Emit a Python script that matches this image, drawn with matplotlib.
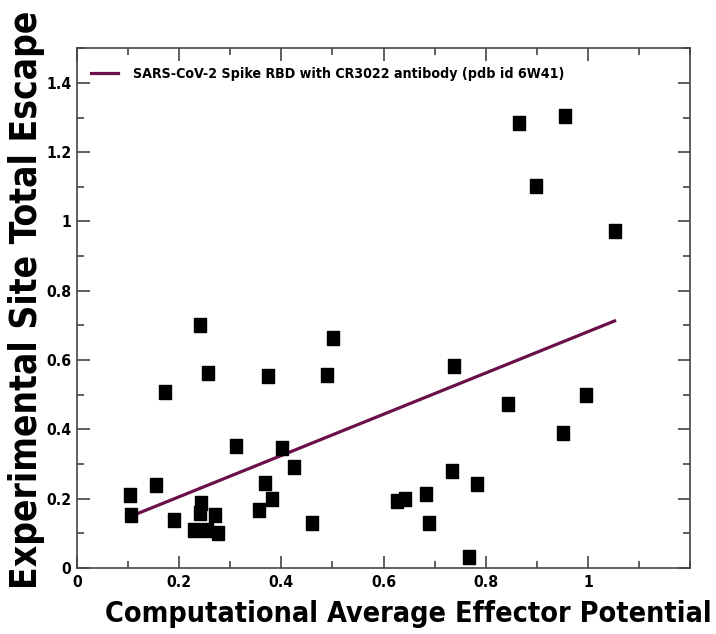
import matplotlib
matplotlib.use("Agg")
import matplotlib.pyplot as plt
from matplotlib.ticker import MultipleLocator
from matplotlib import font_manager
from matplotlib.font_manager import FontProperties

x_vals = [0.103, 0.105, 0.155, 0.172, 0.189, 0.229, 0.240, 0.243, 0.240, 0.256,
          0.255, 0.271, 0.276, 0.311, 0.356, 0.368, 0.373, 0.381, 0.401, 0.424,
          0.460, 0.490, 0.501, 0.626, 0.642, 0.682, 0.688, 0.733, 0.737, 0.767,
          0.783, 0.844, 0.864, 0.898, 0.951, 0.955, 0.996, 1.052]
y_vals = [0.210, 0.152, 0.240, 0.508, 0.140, 0.111, 0.701, 0.187, 0.158, 0.564,
          0.109, 0.152, 0.102, 0.351, 0.167, 0.244, 0.553, 0.199, 0.347, 0.292,
          0.129, 0.557, 0.663, 0.193, 0.199, 0.214, 0.131, 0.280, 0.584, 0.032,
          0.242, 0.473, 1.285, 1.102, 0.391, 1.305, 0.499, 0.973]
fit_x = [0.103, 1.052]
fit_y = [0.148, 0.713]
legend_label = "SARS-CoV-2 Spike RBD with CR3022 antibody (pdb id 6W41)"
x_label = "Computational Average Effector Potential"
y_label = "Experimental Site Total Escape"
x_ticks = [0, 0.2, 0.4, 0.6, 0.8, 1]
x_ticklabels = ["0", "0.2", "0.4", "0.6", "0.8", "1"]
y_ticks = [0, 0.2, 0.4, 0.6, 0.8, 1, 1.2, 1.4]
y_ticklabels = ["0", "0.2", "0.4", "0.6", "0.8", "1", "1.2", "1.4"]

names = {f.name for f in font_manager.fontManager.ttflist}
if "Liberation Sans Narrow" in names:
    FAM, STRETCH = "Liberation Sans Narrow", "normal"
else:
    fp = FontProperties(family="DejaVu Sans", stretch="condensed", weight="bold")
    path = font_manager.findfont(fp, fallback_to_default=False)
    if "Condensed" in path:
        FAM, STRETCH = "DejaVu Sans", "condensed"
    else:
        FAM, STRETCH = "Liberation Sans", "normal"

fig = plt.figure(figsize=(7.16, 6.34), dpi=100)
ax = fig.add_axes([0.1075, 0.104, 0.8565, 0.82])

marker = [(-0.87, -1), (0.87, -1), (0.87, 1), (-0.87, 1), (-0.87, -1)]
ax.plot(fit_x, fit_y, color="#6a1048", lw=2.3, label=legend_label, zorder=2)
ax.plot(x_vals, y_vals, linestyle="none", marker=marker, markersize=10,
        color="black", zorder=3)

ax.set_xlim(0, 1.2)
ax.set_ylim(0, 1.5)
ax.set_xticks(x_ticks)
ax.set_xticklabels(x_ticklabels)
ax.set_yticks(y_ticks)
ax.set_yticklabels(y_ticklabels)
ax.xaxis.set_minor_locator(MultipleLocator(0.1))
ax.yaxis.set_minor_locator(MultipleLocator(0.1))
ax.tick_params(which="both", direction="in", top=True, right=True,
               color="#444444", width=1.2)
ax.tick_params(which="major", length=9)
ax.tick_params(axis="x", which="major", pad=5)
ax.tick_params(axis="y", which="major", pad=4)
ax.tick_params(which="minor", length=5)
for s in ax.spines.values():
    s.set_color("#444444")
    s.set_linewidth(1.2)

renderer = fig.canvas.get_renderer()

def fit_size(txt, target_px, size0, horizontal=True):
    fig.draw_without_rendering()
    bb = txt.get_window_extent(renderer=renderer)
    cur = bb.width if horizontal else bb.height
    txt.set_fontsize(size0 * target_px / cur)

for lab in ax.get_xticklabels() + ax.get_yticklabels():
    lab.set_fontfamily(FAM)
    lab.set_fontstretch(STRETCH)
    lab.set_fontweight("bold")
    lab.set_fontsize(11.3)

xl = fig.text(105 / 716, 1 - 622 / 634, x_label, ha="left", va="baseline",
              fontsize=27, fontweight="bold", family=FAM, fontstretch=STRETCH)
fit_size(xl, 607, 27)
yl = fig.text(37 / 716, 1 - 300 / 634, y_label, ha="center", va="baseline", rotation=90,
              rotation_mode="anchor", fontsize=27, fontweight="bold", family=FAM, fontstretch=STRETCH)
fit_size(yl, 580, 27, horizontal=False)

leg = ax.legend(loc="upper left", frameon=False,
                prop={"family": FAM, "weight": "bold", "size": 11.5, "stretch": STRETCH},
                handlelength=1.7, handletextpad=0.9, borderaxespad=0.3,
                bbox_to_anchor=(0.005, 0.985))
fig.draw_without_rendering()
lt = leg.get_texts()[0]
w = lt.get_window_extent(renderer=renderer).width
lt.set_fontsize(11.5 * 434.0 / w)

fig.savefig("out.png", dpi=100)
